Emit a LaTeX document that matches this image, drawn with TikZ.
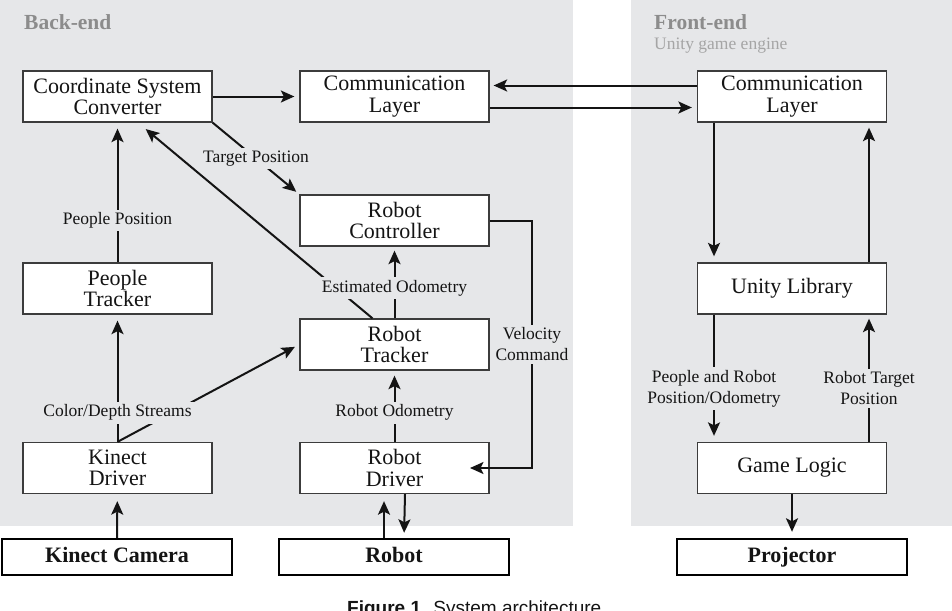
\documentclass[tikz,border=0pt]{standalone}
\usepackage{fontspec}
\setmainfont{Liberation Serif}
\newfontfamily\capfont{Liberation Sans}
\usetikzlibrary{arrows.meta,calc}
\definecolor{panel}{RGB}{230,231,233}
\definecolor{titlegray}{RGB}{140,140,140}
\definecolor{subgray}{RGB}{165,165,165}
\definecolor{ink}{RGB}{20,20,20}
\definecolor{boxline}{RGB}{60,60,60}
\begin{document}
\begin{tikzpicture}[x=1pt,y=-1pt,
  box/.style={draw=boxline, line width=1.3pt, fill=white, minimum width=189pt, minimum height=51pt, inner sep=0pt, align=center, font=\fontsize{22}{21.5}\selectfont, text=ink},
  hwbox/.style={draw=black, line width=2.4pt, fill=white, minimum width=230pt, minimum height=36pt, inner sep=0pt, text height=15pt, text depth=5pt, font=\fontsize{22}{22}\selectfont\bfseries, text=ink},
  arr/.style={line width=2pt, draw=ink, -{Stealth[length=13.5pt,width=12pt,inset=3pt]}, shorten >=5pt},
  lab/.style={fill=panel, inner sep=3pt, font=\fontsize{17.5}{21}\selectfont, text=ink, align=center},
  title/.style={anchor=base west, inner sep=0pt, font=\fontsize{21.5}{21.5}\selectfont\bfseries, text=titlegray},
  panelbox/.style={fill=panel, draw=none}
]
\useasboundingbox (0,0) rectangle (952,610);
\fill[white] (0,0) rectangle (952,610);
% panels
\path[panelbox] (0,0) rectangle (573,526);
\path[panelbox] (631,0) rectangle (952,526);
\node[title] (bt) at (24,30) {Back-end};
\node[title] (ft) at (654,30) {Front-end};
\node[anchor=base west, inner sep=0pt, font=\fontsize{17.5}{17.5}\selectfont, text=subgray] (fs) at (654,50) {Unity game engine};
% boxes
\node[box] (CSC) at (117.5,96.5) {Coordinate System\\Converter};
\node[box] (BC) at (394.5,96.5) {Communication\\Layer};
\node[box] (FC) at (792,96.5) {Communication\\Layer};
\node[box] (RC) at (394.5,220.5) {Robot\\Controller};
\node[box] (PT) at (117.5,288.5) {People\\Tracker};
\node[box] (RT) at (394.5,344.5) {Robot\\Tracker};
\node[box] (UL) at (792,288.5) {Unity Library};
\node[box] (KD) at (117.5,468) {Kinect\\Driver};
\node[box] (RD) at (394.5,468) {Robot\\Driver};
\node[box] (GL) at (792,468) {Game Logic};
\node[hwbox] (KC) at (117,557) {Kinect Camera};
\node[hwbox] (RB) at (394,557) {Robot};
\node[hwbox] (PJ) at (792,557) {Projector};
\coordinate (vc) at (532,468);
\coordinate (vtip) at (470,468);
% connectors
\draw[arr] (CSC) -- (BC);
\draw[arr, shorten >=4pt] ([yshift=11pt]FC.west) -- ([yshift=11pt]BC.east);
\draw[arr] ([yshift=-11pt]BC.east) -- ([yshift=-11pt]FC.west);
\draw[arr, shorten >=4pt] (CSC.south east) -- node[lab,pos=0.5]{Target Position} (RC.north west);
\draw[arr, shorten >=10pt] ([xshift=-22pt]RT.north) -- ([xshift=20.5pt]CSC.south);
\draw[arr] (KD.north) -- (RT.west);
\draw[arr, shorten >=6pt] (PT) -- node[lab,pos=0.3]{People Position} (CSC);
\draw[arr, shorten >=6pt] (KD) -- node[lab,pos=0.23]{Color/Depth Streams} (PT);
\draw[arr, shorten >=4pt] (RT) -- node[lab,pos=0.42]{Estimated Odometry} (RC);
\draw[arr] (RD) -- node[lab,pos=0.41]{Robot Odometry} (RT);
\draw[arr, shorten >=7pt] (KC) -- (KD);
\draw[arr, shorten >=7pt] ([xshift=-10pt]RB.north) -- ([xshift=-10.5pt]RD.south);
\draw[arr] ([xshift=10.5pt]RD.south) -- ([xshift=10pt]RB.north);
\draw[arr, shorten >=0pt] (RC.east) -| node[lab,pos=0.75]{Velocity\\Command} (vc) -- (vtip);
\draw[arr, shorten >=6pt] ([xshift=-78pt]FC.south) -- ([xshift=-78pt]UL.north);
\draw[arr] ([xshift=77pt]UL.north) -- ([xshift=77pt]FC.south);
\draw[arr, shorten >=6pt] ([xshift=-78pt]UL.south) -- node[lab,pos=0.58]{People and Robot\\Position/Odometry} ([xshift=-78pt]GL.north);
\draw[arr, shorten >=4pt] ([xshift=77pt]GL.north) -- node[lab,pos=0.42]{Robot Target\\Position} ([xshift=77pt]UL.south);
\draw[arr, shorten >=6pt] (GL) -- (PJ);
% caption (cut off at the bottom edge, as in the reference)
\node[anchor=base west, inner sep=0pt, font=\capfont\fontsize{19}{19}\selectfont, text=ink] (cap) at (347,614.5) {\textbf{Figure 1.} System architecture.};
\end{tikzpicture}
\end{document}
